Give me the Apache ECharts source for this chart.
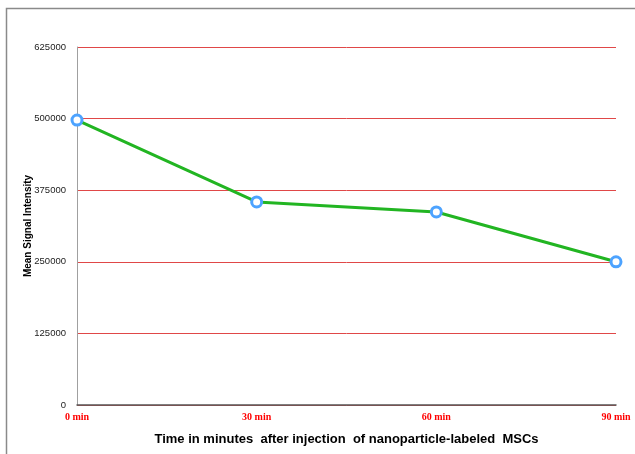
<!DOCTYPE html>
<html><head><meta charset="utf-8">
<script src="https://cdn.jsdelivr.net/npm/echarts@6/dist/echarts.min.js"></script>
<style>html,body{margin:0;padding:0;background:#fff}#c{width:635px;height:454px}</style>
</head><body><div id="c"></div>
<script>
const categories = ['0 min', '30 min', '60 min', '90 min'];
const signal = [497500, 354500, 337000, 250000];
const yTicks = [0, 125000, 250000, 375000, 500000, 625000];

const chart = echarts.init(document.getElementById('c'), null, {renderer: 'canvas'});
chart.setOption({
  animation: false,
  backgroundColor: '#fff',
  graphic: [{
    type: 'rect', shape: {x: 6.5, y: 8.5, width: 700, height: 600},
    style: {fill: 'none', stroke: '#8a8a8a', lineWidth: 1.5}, silent: true
  }],
  grid: {left: 77, right: 19, top: 47, bottom: 49},
  xAxis: {
    type: 'category', data: categories, boundaryGap: false,
    axisLine: {lineStyle: {color: '#555', width: 1.5}},
    axisTick: {show: false},
    axisLabel: {color: '#ff0000', fontFamily: 'Liberation Serif', fontWeight: 'bold', fontSize: 10, margin: 7},
    splitLine: {show: false},
    name: 'Time in minutes  after injection  of nanoparticle-labeled  MSCs',
    nameLocation: 'middle', nameGap: 28, nameMoveOverlap: false,
    nameTextStyle: {color: '#000', fontFamily: 'Liberation Sans', fontWeight: 'bold', fontSize: 13}
  },
  yAxis: {
    type: 'value', min: yTicks[0], max: yTicks[yTicks.length - 1], interval: 125000,
    axisLine: {show: true, lineStyle: {color: '#a0a0a0', width: 1}},
    axisTick: {show: false},
    axisLabel: {color: '#222', fontFamily: 'Liberation Sans', fontSize: 9.5, margin: 11,
      formatter: v => String(v)},
    splitLine: {lineStyle: {color: '#e04848', width: 1}},
    name: 'Mean Signal Intensity', nameLocation: 'middle', nameGap: 44, nameMoveOverlap: false,
    nameTextStyle: {color: '#000', fontFamily: 'Liberation Sans', fontWeight: 'bold', fontSize: 10}
  },
  series: [{
    type: 'line', data: signal,
    lineStyle: {color: '#22b522', width: 3},
    symbol: 'circle', symbolSize: 10,
    itemStyle: {color: '#fff', borderColor: '#4da3ff', borderWidth: 3},
    z: 5
  }]
});
</script></body></html>
